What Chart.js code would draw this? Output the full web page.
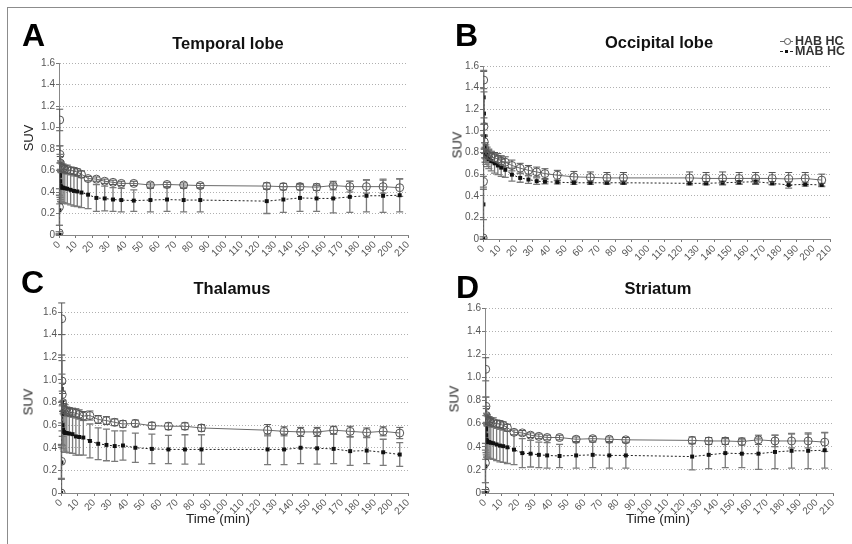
<!DOCTYPE html>
<html>
<head>
<meta charset="utf-8">
<script src="https://cdn.jsdelivr.net/npm/chart.js@4.4.0/dist/chart.umd.min.js"></script>
<style>
	body { margin: 0; background: #fff; font-family: 'Liberation Sans', Arial, sans-serif; }
	#fig { position: relative; width: 852px; height: 544px; overflow: hidden; }
	.frame { position: absolute; left: 7px; top: 7px; width: 900px; height: 600px; border-top: 1.5px solid #8c8c8c; border-left: 1.5px solid #8c8c8c; }
	.panel { position: absolute; }
	.letter { position: absolute; font-weight: bold; font-size: 32px; line-height: 32px; color: #000; }
	.title { position: absolute; font-weight: bold; font-size: 16.5px; line-height: 16.5px; transform: translateX(-50%); white-space: nowrap; color: #111; }
	.ylab { position: absolute; font-size: 13px; line-height: 13px; transform: translate(-50%, -50%) rotate(-90deg); color: #222; }
	.xlab { position: absolute; font-size: 13.5px; line-height: 13.5px; transform: translate(-50%, -50%); white-space: nowrap; color: #222; }
	.legend { position: absolute; left: 779px; top: 36px; font-size: 12.5px; font-weight: bold; color: #333; line-height: 10px; }
	.legend div { position: relative; padding-left: 16px; height: 10px; white-space: nowrap; }
	.legend .ln { position: absolute; left: 1px; top: 5px; width: 13px; border-top: 1px solid #666; }
	.legend .ln.dot { border-top: 1px dashed #222; }
	.legend .mk { position: absolute; left: 5px; top: 2px; width: 5px; height: 5px; border: 1px solid #555; border-radius: 50%; background: #fff; }
	.legend .mk.sq { left: 6px; top: 3.5px; width: 3px; height: 3px; border: 0; border-radius: 0; background: #111; }
</style>
</head>
<body>
<div id="fig">
	<div class="frame"></div>
</div>
<script>
const times = [0.08, 0.25, 0.42, 0.58, 0.75, 0.92, 1.25, 1.75, 2.5, 3.5, 5, 7, 9, 11, 13.5, 17.5, 22.5, 27.5, 32.5, 37.5, 45, 55, 65, 75, 85, 125, 135, 145, 155, 165, 175, 185, 195, 205];
const xTicks = [0, 210, 10];
const yTicks = [0, 1.6, 0.2];

const temporalHab = [0.02, 0.26, 1.07, 0.75, 0.67, 0.64, 0.63, 0.62, 0.62, 0.61, 0.61, 0.60, 0.595, 0.585, 0.565, 0.525, 0.52, 0.50, 0.49, 0.48, 0.48, 0.465, 0.47, 0.465, 0.46, 0.455, 0.45, 0.45, 0.445, 0.46, 0.45, 0.45, 0.45, 0.44];
const temporalHabSd = [0.01, 0.17, 0.10, 0.08, 0.06, 0.05, 0.05, 0.04, 0.04, 0.04, 0.04, 0.03, 0.03, 0.03, 0.03, 0.02, 0.02, 0.02, 0.02, 0.02, 0.02, 0.02, 0.02, 0.02, 0.02, 0.03, 0.03, 0.03, 0.03, 0.04, 0.05, 0.06, 0.06, 0.08];
const temporalMab = [0.0, 0.23, 0.56, 0.55, 0.50, 0.46, 0.45, 0.44, 0.44, 0.435, 0.43, 0.42, 0.41, 0.405, 0.395, 0.375, 0.345, 0.34, 0.33, 0.325, 0.32, 0.325, 0.33, 0.325, 0.325, 0.315, 0.33, 0.345, 0.34, 0.34, 0.355, 0.365, 0.365, 0.37];
const temporalMabSd = [0.01, 0.14, 0.27, 0.20, 0.17, 0.15, 0.14, 0.14, 0.14, 0.14, 0.14, 0.14, 0.14, 0.14, 0.14, 0.13, 0.125, 0.115, 0.11, 0.11, 0.10, 0.11, 0.11, 0.11, 0.11, 0.115, 0.12, 0.125, 0.12, 0.135, 0.145, 0.15, 0.155, 0.155];

const occipitalHab = [0.01, 0.53, 1.47, 1.04, 0.90, 0.84, 0.80, 0.79, 0.78, 0.77, 0.76, 0.75, 0.74, 0.72, 0.71, 0.68, 0.655, 0.635, 0.62, 0.605, 0.59, 0.575, 0.57, 0.565, 0.565, 0.565, 0.56, 0.56, 0.56, 0.56, 0.56, 0.555, 0.56, 0.545];
const occipitalHabSd = [0.01, 0.05, 0.08, 0.08, 0.06, 0.05, 0.05, 0.05, 0.05, 0.05, 0.05, 0.05, 0.05, 0.05, 0.05, 0.05, 0.045, 0.045, 0.045, 0.045, 0.045, 0.05, 0.05, 0.05, 0.05, 0.055, 0.055, 0.06, 0.055, 0.055, 0.055, 0.06, 0.055, 0.055];
const occipitalMab = [0.0, 0.32, 1.31, 1.16, 0.95, 0.85, 0.80, 0.78, 0.76, 0.74, 0.72, 0.70, 0.68, 0.66, 0.64, 0.595, 0.565, 0.55, 0.535, 0.53, 0.525, 0.52, 0.52, 0.52, 0.52, 0.515, 0.515, 0.52, 0.525, 0.53, 0.515, 0.50, 0.505, 0.50];
const occipitalMabSd = [0.0, 0.14, 0.25, 0.20, 0.12, 0.10, 0.09, 0.09, 0.09, 0.09, 0.09, 0.09, 0.085, 0.08, 0.07, 0.06, 0.04, 0.035, 0.03, 0.02, 0.015, 0.015, 0.015, 0.015, 0.015, 0.015, 0.015, 0.015, 0.015, 0.015, 0.015, 0.03, 0.015, 0.015];

const thalamusHab = [0.0, 0.28, 1.54, 0.99, 0.87, 0.80, 0.76, 0.74, 0.73, 0.72, 0.715, 0.71, 0.705, 0.695, 0.68, 0.685, 0.65, 0.64, 0.625, 0.61, 0.615, 0.595, 0.59, 0.59, 0.575, 0.555, 0.545, 0.54, 0.54, 0.555, 0.545, 0.535, 0.545, 0.53];
const thalamusHabSd = [0.0, 0.15, 0.14, 0.18, 0.10, 0.08, 0.06, 0.05, 0.05, 0.04, 0.04, 0.04, 0.04, 0.04, 0.04, 0.04, 0.035, 0.035, 0.03, 0.03, 0.03, 0.03, 0.03, 0.03, 0.03, 0.05, 0.04, 0.04, 0.04, 0.035, 0.045, 0.04, 0.04, 0.05];
const thalamusMab = [0.0, 0.27, 0.92, 0.80, 0.70, 0.60, 0.56, 0.54, 0.53, 0.53, 0.525, 0.52, 0.50, 0.495, 0.49, 0.46, 0.435, 0.425, 0.415, 0.42, 0.40, 0.39, 0.385, 0.385, 0.385, 0.385, 0.385, 0.40, 0.395, 0.39, 0.37, 0.375, 0.36, 0.34];
const thalamusMabSd = [0.0, 0.15, 0.30, 0.25, 0.20, 0.18, 0.17, 0.17, 0.17, 0.17, 0.17, 0.17, 0.165, 0.16, 0.155, 0.15, 0.14, 0.14, 0.135, 0.13, 0.13, 0.13, 0.125, 0.13, 0.13, 0.135, 0.135, 0.14, 0.14, 0.13, 0.125, 0.115, 0.115, 0.105];

const striatumHab = [0.02, 0.26, 1.07, 0.75, 0.67, 0.64, 0.63, 0.62, 0.62, 0.61, 0.61, 0.60, 0.595, 0.585, 0.565, 0.525, 0.52, 0.50, 0.49, 0.48, 0.48, 0.465, 0.47, 0.465, 0.46, 0.455, 0.45, 0.45, 0.445, 0.46, 0.45, 0.45, 0.45, 0.44];
const striatumHabSd = [0.01, 0.17, 0.10, 0.08, 0.06, 0.05, 0.05, 0.04, 0.04, 0.04, 0.04, 0.03, 0.03, 0.03, 0.03, 0.02, 0.02, 0.02, 0.02, 0.02, 0.02, 0.02, 0.02, 0.02, 0.02, 0.03, 0.03, 0.03, 0.03, 0.04, 0.05, 0.06, 0.06, 0.08];
const striatumMab = [0.0, 0.23, 0.56, 0.55, 0.50, 0.46, 0.45, 0.44, 0.44, 0.435, 0.43, 0.42, 0.41, 0.405, 0.395, 0.375, 0.345, 0.34, 0.33, 0.325, 0.32, 0.325, 0.33, 0.325, 0.325, 0.315, 0.33, 0.345, 0.34, 0.34, 0.355, 0.365, 0.365, 0.37];
const striatumMabSd = [0.01, 0.14, 0.27, 0.20, 0.17, 0.15, 0.14, 0.14, 0.14, 0.14, 0.14, 0.14, 0.14, 0.14, 0.14, 0.13, 0.125, 0.115, 0.11, 0.11, 0.10, 0.11, 0.11, 0.11, 0.11, 0.115, 0.12, 0.125, 0.12, 0.135, 0.145, 0.15, 0.155, 0.155];

const seriesNames = ['HAB HC', 'MAB HC'];

const panels = [
	{
		letter: 'A', title: 'Temporal lobe', hab: temporalHab, habSd: temporalHabSd, mab: temporalMab, mabSd: temporalMabSd,
		area: { left: 59, top: 63, right: 408, bottom: 235 },
		letterPos: [22, 19], titlePos: [228, 35], suvPos: [28, 138], timePos: null
	},
	{
		letter: 'B', title: 'Occipital lobe', hab: occipitalHab, habSd: occipitalHabSd, mab: occipitalMab, mabSd: occipitalMabSd,
		area: { left: 483, top: 66, right: 830, bottom: 239 },
		letterPos: [455, 19], titlePos: [659, 34], suvPos: [457, 145], timePos: null
	},
	{
		letter: 'C', title: 'Thalamus', hab: thalamusHab, habSd: thalamusHabSd, mab: thalamusMab, mabSd: thalamusMabSd,
		area: { left: 61, top: 312, right: 408, bottom: 493 },
		letterPos: [21, 266], titlePos: [232, 280], suvPos: [28, 402], timePos: [218, 519]
	},
	{
		letter: 'D', title: 'Striatum', hab: striatumHab, habSd: striatumHabSd, mab: striatumMab, mabSd: striatumMabSd,
		area: { left: 485, top: 308, right: 833, bottom: 493 },
		letterPos: [456, 271], titlePos: [658, 280], suvPos: [454, 399], timePos: [658, 519]
	}
];

const fontFamily = "'Liberation Sans', Arial, sans-serif";
Chart.defaults.font.family = fontFamily;

const errorBars = {
	id: 'errorBars',
	beforeDatasetsDraw(chart) {
		const { ctx, scales: { x, y } } = chart;
		chart.data.datasets.forEach(ds => {
			ctx.save();
			ctx.strokeStyle = ds.errorColor;
			ctx.lineWidth = ds.errorWidth;
			ds.data.forEach(p => {
				if (!p.sd) return;
				const px = x.getPixelForValue(p.x);
				const top = y.getPixelForValue(p.y + p.sd);
				const bottom = y.getPixelForValue(Math.max(p.y - p.sd, 0));
				ctx.beginPath();
				ctx.moveTo(px, top);
				ctx.lineTo(px, bottom);
				ctx.moveTo(px - 3.5, top);
				ctx.lineTo(px + 3.5, top);
				ctx.moveTo(px - 3.5, bottom);
				ctx.lineTo(px + 3.5, bottom);
				ctx.stroke();
			});
			ctx.restore();
		});
	}
};

const toPoints = (vals, sds) => times.map((t, i) => ({ x: t, y: vals[i], sd: sds[i] }));

const fig = document.getElementById('fig');
const addText = (cls, text, pos) => {
	const el = document.createElement('div');
	el.className = cls;
	el.textContent = text;
	el.style.left = `${pos[0]}px`;
	el.style.top = `${pos[1]}px`;
	fig.appendChild(el);
};

const padL = 50, padT = 12, padR = 20, padB = 45;

panels.forEach(panel => {
	const { area } = panel;
	const wrap = document.createElement('div');
	wrap.className = 'panel';
	wrap.style.left = `${area.left - padL}px`;
	wrap.style.top = `${area.top - padT}px`;
	const canvas = document.createElement('canvas');
	canvas.width = area.right - area.left + padL + padR;
	canvas.height = area.bottom - area.top + padT + padB;
	wrap.appendChild(canvas);
	fig.appendChild(wrap);

	new Chart(canvas, {
		type: 'line',
		data: {
			datasets: [
				{
					label: seriesNames[0],
					data: toPoints(panel.hab, panel.habSd),
					borderColor: '#6a6a6a',
					borderWidth: 1,
					pointStyle: 'circle',
					pointRadius: 4,
					pointBorderColor: '#555',
					pointBackgroundColor: 'rgba(0,0,0,0)',
					pointBorderWidth: 1,
					errorColor: '#555',
					errorWidth: 1,
					tension: 0
				},
				{
					label: seriesNames[1],
					data: toPoints(panel.mab, panel.mabSd),
					borderColor: '#222',
					borderWidth: 1,
					borderDash: [2, 2],
					pointStyle: 'rect',
					pointRadius: 2.8,
					pointBorderColor: '#111',
					pointBackgroundColor: '#111',
					pointBorderWidth: 0,
					errorColor: '#7a7a7a',
					errorWidth: 1.3,
					tension: 0
				}
			]
		},
		options: {
			responsive: false,
			animation: false,
			layout: { padding: { left: 0, top: padT, right: padR, bottom: 0 } },
			plugins: { legend: { display: false }, tooltip: { enabled: false } },
			scales: {
				x: {
					type: 'linear',
					min: xTicks[0],
					max: xTicks[1],
					afterFit: s => { s.height = padB; },
					ticks: {
						stepSize: xTicks[2],
						autoSkip: false,
						maxRotation: 45,
						minRotation: 45,
						padding: 1,
						color: '#555',
						font: { size: 10 }
					},
					grid: { drawOnChartArea: false, tickLength: 3, tickColor: '#777' },
					border: { color: '#888', width: 1 }
				},
				y: {
					min: yTicks[0],
					max: yTicks[1],
					afterFit: s => { s.width = padL; },
					ticks: {
						stepSize: yTicks[2],
						padding: 1,
						color: '#555',
						font: { size: 10 },
						callback: v => v === 0 ? '0' : v.toFixed(1)
					},
					grid: { color: '#b0b0b0', lineWidth: 1, tickLength: 3, tickColor: '#777' },
					border: { color: '#888', width: 1, dash: [1, 2] }
				}
			}
		},
		plugins: [errorBars]
	});

	addText('letter', panel.letter, panel.letterPos);
	addText('title', panel.title, panel.titlePos);
	addText('ylab', 'SUV', panel.suvPos);
	if (panel.timePos) addText('xlab', 'Time (min)', panel.timePos);
});

const legend = document.createElement('div');
legend.className = 'legend';
legend.innerHTML = `<div><span class="ln"></span><span class="mk"></span>${seriesNames[0]}</div>
	<div><span class="ln dot"></span><span class="mk sq"></span>${seriesNames[1]}</div>`;
fig.appendChild(legend);
</script>
</body>
</html>
